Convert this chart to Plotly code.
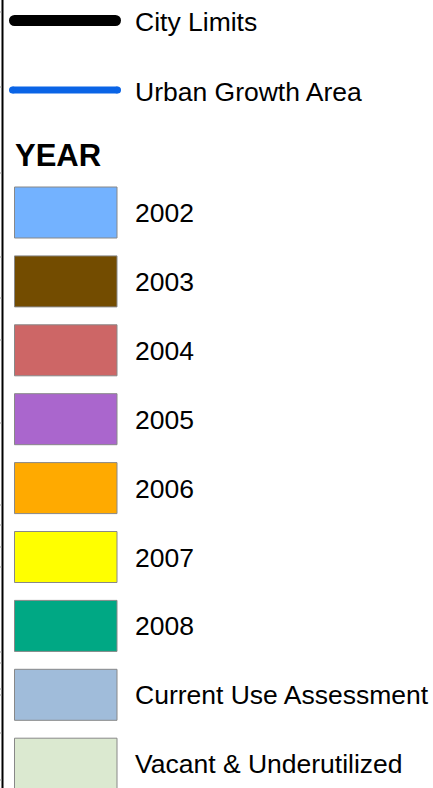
import plotly.graph_objects as go

# ---- legend content ----
line_labels = ["City Limits", "Urban Growth Area"]
line_colors = ["#000000", "#0a64e6"]
line_widths = [11, 7]

section_title = "YEAR"
class_labels = ["2002", "2003", "2004", "2005", "2006", "2007", "2008",
                "Current Use Assessment", "Vacant & Underutilized"]
class_colors = ["#73b2ff", "#734c00", "#cd6666", "#aa66cd", "#ffaa00",
                "#ffff00", "#00a884", "#a0bcda", "#dbe9d0"]

# decorative tick marks along the left neatline (cropped map frame)
frame_ticks = [12, 87, 173, 257, 298, 340, 423, 505, 525, 547, 567, 652, 663, 689, 695, 733, 780]

W, H = 433, 788
FONT = "Liberation Sans, Arial, sans-serif"
FS = 26.5

fig = go.Figure()
shapes = []
annotations = []

# line legend rows
line_y = [20.5, 90]
for i, (lab, col, lw) in enumerate(zip(line_labels, line_colors, line_widths)):
    y = line_y[i]
    x0, x1 = 9 + lw / 2, 121 - lw / 2
    fig.add_trace(go.Scatter(x=[x0, x1], y=[y, y], mode="lines+markers",
                             line=dict(color=col, width=lw),
                             marker=dict(color=col, size=lw, line=dict(width=0)),
                             hoverinfo="skip", showlegend=False))
    annotations.append(dict(x=133, y=y + 1.5, text=lab, xanchor="left", yanchor="middle",
                            showarrow=False, font=dict(family=FONT, size=FS, color="#000")))

# section title
annotations.append(dict(x=13, y=155, text="<b>" + section_title + "</b>", xanchor="left",
                        yanchor="middle", showarrow=False,
                        font=dict(family=FONT, size=31, color="#000")))

# swatches
top0, pitch, sh = 187, 68.9, 51
for i, (lab, col) in enumerate(zip(class_labels, class_colors)):
    t = top0 + i * pitch
    shapes.append(dict(type="rect", xref="x", yref="y", x0=14.5, x1=117, y0=t, y1=t + sh,
                       fillcolor=col, line=dict(color="#888888", width=1)))
    annotations.append(dict(x=133, y=t + sh / 2 + 0.5, text=lab, xanchor="left", yanchor="middle",
                            showarrow=False, font=dict(family=FONT, size=FS, color="#000")))

# left neatline and ticks
shapes.append(dict(type="line", xref="x", yref="y", x0=2.5, x1=2.5, y0=0, y1=H,
                   line=dict(color="#000000", width=2)))
for ty in frame_ticks:
    shapes.append(dict(type="line", xref="x", yref="y", x0=0, x1=2, y0=ty, y1=ty,
                       line=dict(color="#999999", width=1)))

fig.update_layout(
    width=W, height=H, margin=dict(l=0, r=0, t=0, b=0),
    paper_bgcolor="white", plot_bgcolor="white",
    xaxis=dict(range=[0, W], visible=False, fixedrange=True),
    yaxis=dict(range=[H, 0], visible=False, fixedrange=True),
    shapes=shapes, annotations=annotations, showlegend=False,
)
fig.write_html("out.html", config={"displayModeBar": False},
               post_script="document.body.style.margin='0';document.body.style.overflow='hidden';")
